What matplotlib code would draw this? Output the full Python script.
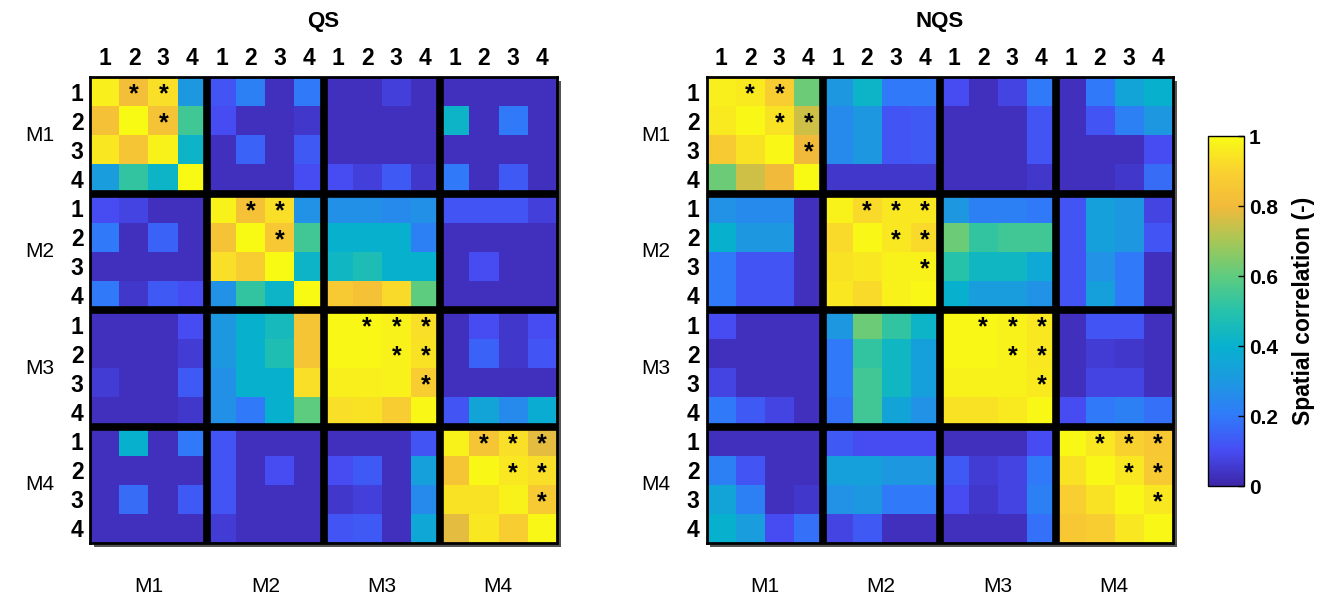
import numpy as np
import matplotlib.pyplot as plt
from matplotlib.colors import LinearSegmentedColormap
from matplotlib.patches import Rectangle

plt.rcParams['font.family'] = ['Liberation Sans', 'DejaVu Sans']

# approximate MATLAB parula
parula_pts = [
    (0.00, (0.2422, 0.1504, 0.6603)),
    (0.10, (0.2760, 0.3000, 0.9550)),
    (0.20, (0.1900, 0.4800, 0.9800)),
    (0.30, (0.1130, 0.6000, 0.8800)),
    (0.40, (0.0300, 0.6950, 0.8100)),
    (0.50, (0.1500, 0.7600, 0.6700)),
    (0.60, (0.3700, 0.8000, 0.5000)),
    (0.70, (0.6500, 0.7800, 0.3400)),
    (0.80, (0.9500, 0.7300, 0.2300)),
    (0.90, (0.9800, 0.8200, 0.1900)),
    (1.00, (0.9769, 0.9839, 0.0805)),
]
parula = LinearSegmentedColormap.from_list('parula', parula_pts)

groups = ['M1', 'M2', 'M3', 'M4']
sub_labels = ['1', '2', '3', '4']

qs = np.array([
    [.97, .82, .93, .30, .12, .22, .03, .20, .03, .03, .07, .03, .03, .03, .03, .03],
    [.83, 1.0, .84, .55, .10, .03, .03, .05, .03, .03, .03, .03, .42, .03, .20, .03],
    [.95, .85, .98, .42, .03, .15, .03, .13, .03, .03, .03, .03, .03, .03, .03, .03],
    [.32, .52, .42, 1.0, .03, .03, .03, .10, .10, .07, .13, .05, .20, .03, .13, .03],
    [.10, .08, .03, .03, .98, .83, .93, .28, .27, .27, .25, .27, .12, .12, .12, .07],
    [.20, .03, .15, .03, .84, 1.0, .86, .55, .40, .40, .40, .22, .03, .03, .03, .03],
    [.03, .03, .03, .03, .93, .88, 1.0, .42, .43, .47, .40, .40, .03, .10, .03, .03],
    [.20, .05, .13, .10, .28, .52, .42, 1.0, .87, .83, .92, .60, .03, .03, .03, .03],
    [.03, .03, .03, .10, .30, .40, .45, .85, .99, .99, .98, .93, .03, .10, .05, .10],
    [.03, .03, .03, .06, .30, .40, .48, .85, .99, .99, .98, .94, .03, .15, .05, .12],
    [.06, .03, .03, .13, .27, .40, .40, .93, .97, .97, .98, .88, .03, .03, .03, .03],
    [.03, .03, .03, .05, .27, .20, .40, .60, .93, .94, .88, .99, .12, .35, .25, .38],
    [.03, .40, .03, .20, .12, .03, .03, .03, .03, .03, .03, .12, .98, .85, .93, .78],
    [.03, .03, .03, .03, .12, .03, .10, .03, .10, .13, .03, .33, .85, .99, .95, .93],
    [.03, .17, .03, .13, .12, .03, .03, .03, .05, .07, .03, .25, .94, .94, .98, .87],
    [.03, .03, .03, .03, .06, .03, .03, .03, .12, .13, .03, .36, .78, .95, .88, .99],
])

nqs = np.array([
    [.97, .96, .88, .62, .30, .42, .20, .20, .10, .03, .08, .20, .03, .20, .35, .40],
    [.96, .99, .94, .75, .25, .30, .12, .13, .03, .03, .03, .12, .03, .12, .22, .30],
    [.87, .94, .99, .80, .25, .30, .12, .13, .03, .03, .03, .12, .03, .03, .03, .10],
    [.62, .75, .80, 1.0, .05, .05, .05, .05, .03, .03, .03, .05, .03, .03, .05, .17],
    [.28, .25, .25, .03, .98, .92, .95, .95, .30, .22, .22, .20, .12, .33, .30, .08],
    [.40, .30, .30, .03, .92, .99, .95, .92, .62, .52, .55, .55, .12, .33, .30, .12],
    [.20, .12, .12, .03, .94, .95, .98, .98, .50, .43, .43, .37, .12, .28, .20, .03],
    [.20, .12, .12, .03, .95, .92, .98, .99, .40, .32, .32, .28, .12, .33, .20, .03],
    [.10, .03, .03, .03, .30, .62, .52, .42, .99, .99, .98, .95, .03, .12, .12, .03],
    [.03, .03, .03, .03, .20, .52, .43, .33, .99, .99, .98, .95, .03, .06, .05, .03],
    [.08, .03, .03, .03, .20, .55, .43, .33, .98, .98, .98, .96, .03, .08, .08, .03],
    [.20, .13, .08, .03, .18, .55, .35, .28, .94, .94, .96, .99, .10, .20, .22, .18],
    [.03, .03, .03, .03, .13, .10, .10, .10, .03, .03, .03, .10, .99, .95, .90, .86],
    [.22, .12, .03, .03, .33, .33, .30, .30, .13, .06, .08, .20, .94, .99, .95, .87],
    [.35, .22, .03, .05, .28, .30, .20, .20, .10, .05, .08, .22, .89, .94, .99, .95],
    [.40, .32, .10, .18, .08, .13, .03, .03, .03, .03, .03, .18, .86, .88, .95, .99],
])

# significant cells (row, col)
full_tri = [(0, 1), (0, 2), (0, 3), (1, 2), (1, 3), (2, 3)]
qs_stars = [(0, 1), (0, 2), (1, 2)] + \
           [(4 + r, 4 + c) for r, c in [(0, 1), (0, 2), (1, 2)]] + \
           [(8 + r, 8 + c) for r, c in full_tri] + \
           [(12 + r, 12 + c) for r, c in full_tri]
nqs_stars = [(0, 1), (0, 2), (1, 2), (1, 3), (2, 3)] + \
            [(4 + r, 4 + c) for r, c in full_tri] + \
            [(8 + r, 8 + c) for r, c in full_tri] + \
            [(12 + r, 12 + c) for r, c in full_tri]

W, H = 1341, 603
fig = plt.figure(figsize=(W / 100, H / 100), dpi=100)


def draw_panel(left_px, mat, stars, title):
    ax = fig.add_axes([left_px / W, (H - 543) / H, 467 / W, 466 / H])
    # drop shadow of the frame
    fig.patches.append(Rectangle(((left_px + 4) / W, (H - 547) / H), 467 / W, 466 / H,
                                 transform=fig.transFigure, facecolor='#555555',
                                 edgecolor='none', zorder=-1))
    im = ax.imshow(mat, cmap=parula, vmin=0, vmax=1, extent=(0.5, 16.5, 16.5, 0.5),
                   interpolation='nearest')
    for b in [4.5, 8.5, 12.5]:
        ax.axvline(b, color='black', lw=5.5)
        ax.axhline(b, color='black', lw=5.5)
    for r, c in stars:
        ax.text(c + 1, r + 1 + 0.1, '*', ha='center', va='center', fontsize=18,
                fontweight='bold', color='black')
    ax.set_xlim(0.5, 16.5)
    ax.set_ylim(16.5, 0.5)
    ax.xaxis.tick_top()
    ax.set_xticks(np.arange(1, 17))
    ax.set_xticklabels(sub_labels * 4, fontsize=16.5, fontweight='bold')
    ax.set_yticks(np.arange(1, 17))
    ax.set_yticklabels(sub_labels * 4, fontsize=16.5, fontweight='bold')
    ax.tick_params(length=0, pad=5)
    for s in ax.spines.values():
        s.set_linewidth(2)
    for i, g in enumerate(groups):
        ax.text(4 * i + 2.5, 18.0, g, ha='center', va='center', fontsize=15)
        ax.text(-1.25, 4 * i + 2.5, g, ha='center', va='center', fontsize=15)
    ax.set_title(title, fontsize=16, fontweight='bold', pad=36)
    return im


draw_panel(90, qs, qs_stars, 'QS')
im = draw_panel(706, nqs, nqs_stars, 'NQS')

cax = fig.add_axes([1208 / W, (H - 486) / H, 36 / W, 350 / H])
cb = fig.colorbar(im, cax=cax, ticks=[0, 0.2, 0.4, 0.6, 0.8, 1])
cb.set_ticklabels(['0', '0.2', '0.4', '0.6', '0.8', '1'])
cb.ax.tick_params(direction='in', length=4, labelsize=15, width=1)
for lab in cb.ax.get_yticklabels():
    lab.set_fontweight('bold')
cb.outline.set_linewidth(1)
cb.set_label('Spatial correlation (-)', fontsize=16.5, fontweight='bold', labelpad=10)

fig.savefig('out.png', dpi=100)
